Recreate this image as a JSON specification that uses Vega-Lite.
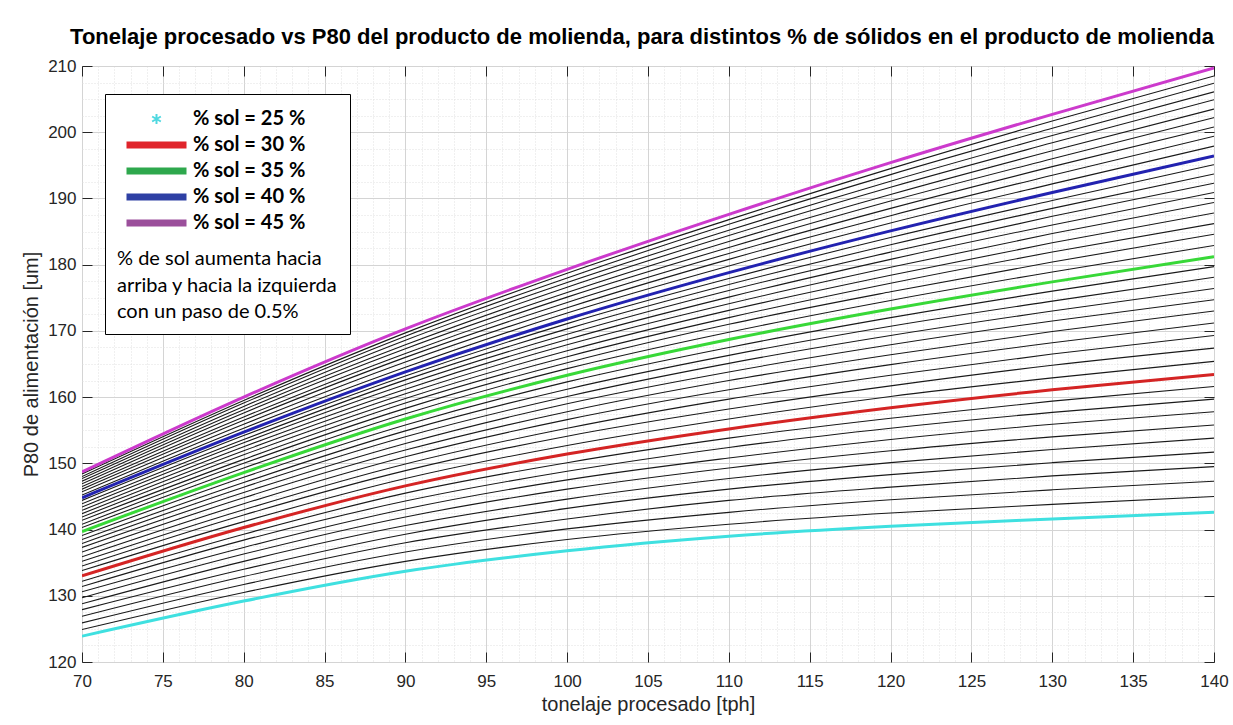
{
  "$schema": "https://vega.github.io/schema/vega-lite/v6.json",
  "width": 1132,
  "height": 596,
  "autosize": {"type": "none"},
  "padding": {"left": 82, "top": 66, "right": 19, "bottom": 63},
  "background": "white",
  "title": {
    "text": "Tonelaje procesado vs P80 del producto de molienda, para distintos % de sólidos en el producto de molienda",
    "font": "Liberation Sans", "fontSize": 22, "fontWeight": "bold", "color": "#000000", "anchor": "middle", "offset": 8, "dx": -6
  },
  "datasets": {
    "curvas": [
      {"s":25,"t":70,"p":123.9},{"s":25,"t":80,"p":129.2},{"s":25,"t":90,"p":133.7},{"s":25,"t":100,"p":136.8},{"s":25,"t":110,"p":139.0},{"s":25,"t":120,"p":140.5},{"s":25,"t":130,"p":141.6},{"s":25,"t":140,"p":142.6},
      {"s":25.5,"t":70,"p":124.9},{"s":25.5,"t":80,"p":130.5},{"s":25.5,"t":90,"p":135.2},{"s":25.5,"t":100,"p":138.5},{"s":25.5,"t":110,"p":140.8},{"s":25.5,"t":120,"p":142.5},{"s":25.5,"t":130,"p":143.8},{"s":25.5,"t":140,"p":145.0},
      {"s":26,"t":70,"p":125.9},{"s":26,"t":80,"p":131.7},{"s":26,"t":90,"p":136.6},{"s":26,"t":100,"p":140.1},{"s":26,"t":110,"p":142.6},{"s":26,"t":120,"p":144.5},{"s":26,"t":130,"p":146.0},{"s":26,"t":140,"p":147.3},
      {"s":26.5,"t":70,"p":126.9},{"s":26.5,"t":80,"p":132.9},{"s":26.5,"t":90,"p":138.0},{"s":26.5,"t":100,"p":141.6},{"s":26.5,"t":110,"p":144.4},{"s":26.5,"t":120,"p":146.4},{"s":26.5,"t":130,"p":148.1},{"s":26.5,"t":140,"p":149.5},
      {"s":27,"t":70,"p":127.9},{"s":27,"t":80,"p":134.0},{"s":27,"t":90,"p":139.3},{"s":27,"t":100,"p":143.2},{"s":27,"t":110,"p":146.1},{"s":27,"t":120,"p":148.3},{"s":27,"t":130,"p":150.1},{"s":27,"t":140,"p":151.7},
      {"s":27.5,"t":70,"p":128.8},{"s":27.5,"t":80,"p":135.2},{"s":27.5,"t":90,"p":140.6},{"s":27.5,"t":100,"p":144.6},{"s":27.5,"t":110,"p":147.7},{"s":27.5,"t":120,"p":150.1},{"s":27.5,"t":130,"p":152.1},{"s":27.5,"t":140,"p":153.8},
      {"s":28,"t":70,"p":129.7},{"s":28,"t":80,"p":136.3},{"s":28,"t":90,"p":141.9},{"s":28,"t":100,"p":146.1},{"s":28,"t":110,"p":149.3},{"s":28,"t":120,"p":151.9},{"s":28,"t":130,"p":154.0},{"s":28,"t":140,"p":155.8},
      {"s":28.5,"t":70,"p":130.6},{"s":28.5,"t":80,"p":137.3},{"s":28.5,"t":90,"p":143.1},{"s":28.5,"t":100,"p":147.5},{"s":28.5,"t":110,"p":150.8},{"s":28.5,"t":120,"p":153.6},{"s":28.5,"t":130,"p":155.9},{"s":28.5,"t":140,"p":157.8},
      {"s":29,"t":70,"p":131.4},{"s":29,"t":80,"p":138.4},{"s":29,"t":90,"p":144.3},{"s":29,"t":100,"p":148.8},{"s":29,"t":110,"p":152.4},{"s":29,"t":120,"p":155.3},{"s":29,"t":130,"p":157.7},{"s":29,"t":140,"p":159.7},
      {"s":29.5,"t":70,"p":132.2},{"s":29.5,"t":80,"p":139.3},{"s":29.5,"t":90,"p":145.5},{"s":29.5,"t":100,"p":150.1},{"s":29.5,"t":110,"p":153.8},{"s":29.5,"t":120,"p":156.8},{"s":29.5,"t":130,"p":159.4},{"s":29.5,"t":140,"p":161.6},
      {"s":30,"t":70,"p":133.0},{"s":30,"t":80,"p":140.3},{"s":30,"t":90,"p":146.6},{"s":30,"t":100,"p":151.4},{"s":30,"t":110,"p":155.2},{"s":30,"t":120,"p":158.4},{"s":30,"t":130,"p":161.1},{"s":30,"t":140,"p":163.4},
      {"s":30.5,"t":70,"p":133.8},{"s":30.5,"t":80,"p":141.2},{"s":30.5,"t":90,"p":147.7},{"s":30.5,"t":100,"p":152.7},{"s":30.5,"t":110,"p":156.7},{"s":30.5,"t":120,"p":160.1},{"s":30.5,"t":130,"p":162.9},{"s":30.5,"t":140,"p":165.4},
      {"s":31,"t":70,"p":134.5},{"s":31,"t":80,"p":142.2},{"s":31,"t":90,"p":148.9},{"s":31,"t":100,"p":154.1},{"s":31,"t":110,"p":158.2},{"s":31,"t":120,"p":161.7},{"s":31,"t":130,"p":164.8},{"s":31,"t":140,"p":167.4},
      {"s":31.5,"t":70,"p":135.2},{"s":31.5,"t":80,"p":143.0},{"s":31.5,"t":90,"p":149.9},{"s":31.5,"t":100,"p":155.3},{"s":31.5,"t":110,"p":159.7},{"s":31.5,"t":120,"p":163.3},{"s":31.5,"t":130,"p":166.5},{"s":31.5,"t":140,"p":169.3},
      {"s":32,"t":70,"p":135.9},{"s":32,"t":80,"p":143.9},{"s":32,"t":90,"p":151.0},{"s":32,"t":100,"p":156.6},{"s":32,"t":110,"p":161.1},{"s":32,"t":120,"p":164.9},{"s":32,"t":130,"p":168.2},{"s":32,"t":140,"p":171.2},
      {"s":32.5,"t":70,"p":136.6},{"s":32.5,"t":80,"p":144.8},{"s":32.5,"t":90,"p":152.0},{"s":32.5,"t":100,"p":157.8},{"s":32.5,"t":110,"p":162.5},{"s":32.5,"t":120,"p":166.4},{"s":32.5,"t":130,"p":169.9},{"s":32.5,"t":140,"p":173.0},
      {"s":33,"t":70,"p":137.3},{"s":33,"t":80,"p":145.6},{"s":33,"t":90,"p":153.0},{"s":33,"t":100,"p":159.0},{"s":33,"t":110,"p":163.8},{"s":33,"t":120,"p":167.9},{"s":33,"t":130,"p":171.5},{"s":33,"t":140,"p":174.7},
      {"s":33.5,"t":70,"p":137.9},{"s":33.5,"t":80,"p":146.4},{"s":33.5,"t":90,"p":154.0},{"s":33.5,"t":100,"p":160.1},{"s":33.5,"t":110,"p":165.1},{"s":33.5,"t":120,"p":169.3},{"s":33.5,"t":130,"p":173.0},{"s":33.5,"t":140,"p":176.4},
      {"s":34,"t":70,"p":138.5},{"s":34,"t":80,"p":147.1},{"s":34,"t":90,"p":154.9},{"s":34,"t":100,"p":161.2},{"s":34,"t":110,"p":166.3},{"s":34,"t":120,"p":170.7},{"s":34,"t":130,"p":174.5},{"s":34,"t":140,"p":178.1},
      {"s":34.5,"t":70,"p":139.1},{"s":34.5,"t":80,"p":147.9},{"s":34.5,"t":90,"p":155.8},{"s":34.5,"t":100,"p":162.3},{"s":34.5,"t":110,"p":167.5},{"s":34.5,"t":120,"p":172.0},{"s":34.5,"t":130,"p":176.0},{"s":34.5,"t":140,"p":179.7},
      {"s":35,"t":70,"p":139.7},{"s":35,"t":80,"p":148.6},{"s":35,"t":90,"p":156.7},{"s":35,"t":100,"p":163.3},{"s":35,"t":110,"p":168.7},{"s":35,"t":120,"p":173.3},{"s":35,"t":130,"p":177.4},{"s":35,"t":140,"p":181.2},
      {"s":35.5,"t":70,"p":140.3},{"s":35.5,"t":80,"p":149.3},{"s":35.5,"t":90,"p":157.5},{"s":35.5,"t":100,"p":164.3},{"s":35.5,"t":110,"p":169.8},{"s":35.5,"t":120,"p":174.6},{"s":35.5,"t":130,"p":178.9},{"s":35.5,"t":140,"p":182.9},
      {"s":36,"t":70,"p":140.8},{"s":36,"t":80,"p":150.0},{"s":36,"t":90,"p":158.3},{"s":36,"t":100,"p":165.2},{"s":36,"t":110,"p":171.0},{"s":36,"t":120,"p":175.9},{"s":36,"t":130,"p":180.4},{"s":36,"t":140,"p":184.6},
      {"s":36.5,"t":70,"p":141.4},{"s":36.5,"t":80,"p":150.6},{"s":36.5,"t":90,"p":159.1},{"s":36.5,"t":100,"p":166.1},{"s":36.5,"t":110,"p":172.0},{"s":36.5,"t":120,"p":177.2},{"s":36.5,"t":130,"p":181.9},{"s":36.5,"t":140,"p":186.2},
      {"s":37,"t":70,"p":141.9},{"s":37,"t":80,"p":151.3},{"s":37,"t":90,"p":159.8},{"s":37,"t":100,"p":167.0},{"s":37,"t":110,"p":173.1},{"s":37,"t":120,"p":178.4},{"s":37,"t":130,"p":183.3},{"s":37,"t":140,"p":187.8},
      {"s":37.5,"t":70,"p":142.4},{"s":37.5,"t":80,"p":151.9},{"s":37.5,"t":90,"p":160.5},{"s":37.5,"t":100,"p":167.9},{"s":37.5,"t":110,"p":174.1},{"s":37.5,"t":120,"p":179.6},{"s":37.5,"t":130,"p":184.7},{"s":37.5,"t":140,"p":189.4},
      {"s":38,"t":70,"p":142.9},{"s":38,"t":80,"p":152.5},{"s":38,"t":90,"p":161.2},{"s":38,"t":100,"p":168.7},{"s":38,"t":110,"p":175.1},{"s":38,"t":120,"p":180.8},{"s":38,"t":130,"p":186.0},{"s":38,"t":140,"p":190.9},
      {"s":38.5,"t":70,"p":143.4},{"s":38.5,"t":80,"p":153.1},{"s":38.5,"t":90,"p":161.9},{"s":38.5,"t":100,"p":169.5},{"s":38.5,"t":110,"p":176.1},{"s":38.5,"t":120,"p":181.9},{"s":38.5,"t":130,"p":187.3},{"s":38.5,"t":140,"p":192.3},
      {"s":39,"t":70,"p":143.9},{"s":39,"t":80,"p":153.6},{"s":39,"t":90,"p":162.6},{"s":39,"t":100,"p":170.3},{"s":39,"t":110,"p":177.0},{"s":39,"t":120,"p":183.0},{"s":39,"t":130,"p":188.5},{"s":39,"t":140,"p":193.7},
      {"s":39.5,"t":70,"p":144.4},{"s":39.5,"t":80,"p":154.2},{"s":39.5,"t":90,"p":163.2},{"s":39.5,"t":100,"p":171.1},{"s":39.5,"t":110,"p":177.9},{"s":39.5,"t":120,"p":184.1},{"s":39.5,"t":130,"p":189.7},{"s":39.5,"t":140,"p":195.1},
      {"s":40,"t":70,"p":144.8},{"s":40,"t":80,"p":154.7},{"s":40,"t":90,"p":163.8},{"s":40,"t":100,"p":171.8},{"s":40,"t":110,"p":178.8},{"s":40,"t":120,"p":185.1},{"s":40,"t":130,"p":190.9},{"s":40,"t":140,"p":196.4},
      {"s":40.5,"t":70,"p":145.2},{"s":40.5,"t":80,"p":155.3},{"s":40.5,"t":90,"p":164.5},{"s":40.5,"t":100,"p":172.7},{"s":40.5,"t":110,"p":179.8},{"s":40.5,"t":120,"p":186.3},{"s":40.5,"t":130,"p":192.2},{"s":40.5,"t":140,"p":197.9},
      {"s":41,"t":70,"p":145.7},{"s":41,"t":80,"p":155.9},{"s":41,"t":90,"p":165.3},{"s":41,"t":100,"p":173.5},{"s":41,"t":110,"p":180.8},{"s":41,"t":120,"p":187.4},{"s":41,"t":130,"p":193.5},{"s":41,"t":140,"p":199.4},
      {"s":41.5,"t":70,"p":146.1},{"s":41.5,"t":80,"p":156.5},{"s":41.5,"t":90,"p":166.0},{"s":41.5,"t":100,"p":174.3},{"s":41.5,"t":110,"p":181.7},{"s":41.5,"t":120,"p":188.5},{"s":41.5,"t":130,"p":194.8},{"s":41.5,"t":140,"p":200.8},
      {"s":42,"t":70,"p":146.5},{"s":42,"t":80,"p":157.0},{"s":42,"t":90,"p":166.6},{"s":42,"t":100,"p":175.1},{"s":42,"t":110,"p":182.6},{"s":42,"t":120,"p":189.6},{"s":42,"t":130,"p":196.0},{"s":42,"t":140,"p":202.2},
      {"s":42.5,"t":70,"p":146.9},{"s":42.5,"t":80,"p":157.6},{"s":42.5,"t":90,"p":167.3},{"s":42.5,"t":100,"p":175.8},{"s":42.5,"t":110,"p":183.5},{"s":42.5,"t":120,"p":190.6},{"s":42.5,"t":130,"p":197.2},{"s":42.5,"t":140,"p":203.5},
      {"s":43,"t":70,"p":147.3},{"s":43,"t":80,"p":158.1},{"s":43,"t":90,"p":167.9},{"s":43,"t":100,"p":176.6},{"s":43,"t":110,"p":184.4},{"s":43,"t":120,"p":191.7},{"s":43,"t":130,"p":198.4},{"s":43,"t":140,"p":204.9},
      {"s":43.5,"t":70,"p":147.7},{"s":43.5,"t":80,"p":158.6},{"s":43.5,"t":90,"p":168.6},{"s":43.5,"t":100,"p":177.3},{"s":43.5,"t":110,"p":185.2},{"s":43.5,"t":120,"p":192.6},{"s":43.5,"t":130,"p":199.5},{"s":43.5,"t":140,"p":206.1},
      {"s":44,"t":70,"p":148.0},{"s":44,"t":80,"p":159.1},{"s":44,"t":90,"p":169.2},{"s":44,"t":100,"p":178.0},{"s":44,"t":110,"p":186.1},{"s":44,"t":120,"p":193.6},{"s":44,"t":130,"p":200.6},{"s":44,"t":140,"p":207.4},
      {"s":44.5,"t":70,"p":148.4},{"s":44.5,"t":80,"p":159.5},{"s":44.5,"t":90,"p":169.7},{"s":44.5,"t":100,"p":178.7},{"s":44.5,"t":110,"p":186.8},{"s":44.5,"t":120,"p":194.5},{"s":44.5,"t":130,"p":201.7},{"s":44.5,"t":140,"p":208.5},
      {"s":45,"t":70,"p":148.7},{"s":45,"t":80,"p":160.0},{"s":45,"t":90,"p":170.3},{"s":45,"t":100,"p":179.3},{"s":45,"t":110,"p":187.6},{"s":45,"t":120,"p":195.4},{"s":45,"t":130,"p":202.7},{"s":45,"t":140,"p":209.7}
    ]
  },
  "layer": [
    {
      "data": {"name": "curvas"},
      "transform": [{"filter": "datum.s % 5 != 0"}],
      "mark": {"type": "line", "color": "#1a1a1a", "strokeWidth": 1.1, "interpolate": "monotone", "clip": true},
      "encoding": {
        "x": {
          "field": "t", "type": "quantitative",
          "scale": {"domain": [70, 140], "nice": false, "zero": false},
          "axis": {
            "orient": "bottom",
            "values": [70,71,72,73,74,75,76,77,78,79,80,81,82,83,84,85,86,87,88,89,90,91,92,93,94,95,96,97,98,99,100,101,102,103,104,105,106,107,108,109,110,111,112,113,114,115,116,117,118,119,120,121,122,123,124,125,126,127,128,129,130,131,132,133,134,135,136,137,138,139,140],
            "labelExpr": "datum.value % 5 === 0 ? datum.label : ''",
            "labelOverlap": false, "labelFlush": false,
            "labelFont": "Liberation Sans", "labelFontSize": 17, "labelColor": "#262626", "labelPadding": 21,
            "grid": true,
            "gridColor": {"condition": {"test": "datum.value % 5 === 0", "value": "#d4d4d4"}, "value": "#e0e0e0"},
            "gridDash": {"condition": {"test": "datum.value % 5 === 0", "value": []}, "value": [1, 2]},
            "ticks": true, "tickSize": -10, "tickColor": "#262626",
            "tickOpacity": {"condition": {"test": "datum.value % 5 === 0", "value": 1}, "value": 0},
            "domain": false,
            "title": "tonelaje procesado [tph]",
            "titleFont": "Liberation Sans", "titleFontSize": 20, "titleFontWeight": "normal", "titleColor": "#262626", "titlePadding": 5
          }
        },
        "y": {
          "field": "p", "type": "quantitative",
          "scale": {"domain": [120, 210], "nice": false, "zero": false},
          "axis": {
            "orient": "left",
            "values": [120,122.5,125,127.5,130,132.5,135,137.5,140,142.5,145,147.5,150,152.5,155,157.5,160,162.5,165,167.5,170,172.5,175,177.5,180,182.5,185,187.5,190,192.5,195,197.5,200,202.5,205,207.5,210],
            "labelExpr": "datum.value % 10 === 0 ? datum.label : ''",
            "labelOverlap": false, "labelFlush": false,
            "labelFont": "Liberation Sans", "labelFontSize": 17, "labelColor": "#262626", "labelPadding": 16,
            "grid": true,
            "gridColor": {"condition": {"test": "datum.value % 10 === 0", "value": "#d4d4d4"}, "value": "#e0e0e0"},
            "gridDash": {"condition": {"test": "datum.value % 10 === 0", "value": []}, "value": [1, 2]},
            "ticks": true, "tickSize": -10, "tickColor": "#262626",
            "tickOpacity": {"condition": {"test": "datum.value % 10 === 0", "value": 1}, "value": 0},
            "domain": false,
            "title": "P80 de alimentación [um]",
            "titleFont": "Liberation Sans", "titleFontSize": 20, "titleFontWeight": "normal", "titleColor": "#262626", "titlePadding": 6
          }
        },
        "detail": {"field": "s", "type": "nominal"}
      }
    },
    {
      "data": {"name": "curvas"},
      "transform": [{"filter": "datum.s % 5 == 0"}],
      "mark": {"type": "line", "strokeWidth": 3, "interpolate": "monotone", "clip": true},
      "encoding": {
        "x": {
          "field": "t", "type": "quantitative",
          "axis": {"orient": "top", "values": [70,75,80,85,90,95,100,105,110,115,120,125,130,135,140], "labels": false, "grid": false, "domain": false, "ticks": true, "tickSize": -10, "tickColor": "#262626", "title": null}
        },
        "y": {
          "field": "p", "type": "quantitative",
          "axis": {"orient": "right", "values": [120,130,140,150,160,170,180,190,200,210], "labels": false, "grid": false, "domain": false, "ticks": true, "tickSize": -10, "tickColor": "#262626", "title": null}
        },
        "stroke": {
          "field": "s", "type": "nominal",
          "scale": {"domain": [25, 30, 35, 40, 45], "range": ["#3fe0e0", "#d42424", "#38d838", "#2222b0", "#cc3acc"]},
          "legend": null
        }
      }
    },
    {
      "data": {"values": [
        {"etiqueta": "% sol = 25 %"},
        {"etiqueta": "% sol = 30 %"},
        {"etiqueta": "% sol = 35 %"},
        {"etiqueta": "% sol = 40 %"},
        {"etiqueta": "% sol = 45 %"}
      ]},
      "mark": {"type": "point", "opacity": 0},
      "encoding": {
        "color": {
          "field": "etiqueta", "type": "nominal",
          "scale": {"domain": ["% sol = 25 %", "% sol = 30 %", "% sol = 35 %", "% sol = 40 %", "% sol = 45 %"], "range": ["#4fd8e0", "#e0242b", "#2ea84d", "#2e40a4", "#9b4f9b"]},
          "legend": {
            "orient": "none", "legendX": 23, "legendY": 28,
            "title": ["% de sol aumenta hacia", "arriba y hacia la izquierda", "con un paso de 0.5%"],
            "titleOrient": "bottom", "titleAnchor": "start", "titleAlign": "left",
            "titleFont": "Lato", "titleFontSize": 20, "titleFontWeight": "normal", "titleColor": "#000000",
            "titleLineHeight": 26.5, "titlePadding": 13, "titleLimit": 500,
            "labelFont": "Lato", "labelFontSize": 20, "labelFontWeight": "bold", "labelColor": "#000000",
            "labelLimit": 500, "labelOffset": 26.5,
            "symbolSize": 100, "symbolStrokeWidth": 7, "symbolOffset": 29.5,
            "clipHeight": 26, "rowPadding": 0, "padding": 12,
            "strokeColor": "#000000", "fillColor": "#ffffff"
          }
        },
        "shape": {
          "field": "etiqueta", "type": "nominal",
          "scale": {"domain": ["% sol = 25 %", "% sol = 30 %", "% sol = 35 %", "% sol = 40 %", "% sol = 45 %"], "range": ["M0,-1V1M-0.87,-0.5L0.87,0.5M-0.87,0.5L0.87,-0.5", "M-6,0H6", "M-6,0H6", "M-6,0H6", "M-6,0H6"]}
        },
        "strokeWidth": {
          "field": "etiqueta", "type": "nominal",
          "scale": {"type": "ordinal", "domain": ["% sol = 25 %", "% sol = 30 %", "% sol = 35 %", "% sol = 40 %", "% sol = 45 %"], "range": [2, 7, 7, 7, 7]}
        }
      }
    }
  ],
  "resolve": {"axis": {"x": "independent", "y": "independent"}},
  "config": {
    "view": {"stroke": "#262626", "strokeWidth": 1},
    "font": "Liberation Sans"
  }
}
